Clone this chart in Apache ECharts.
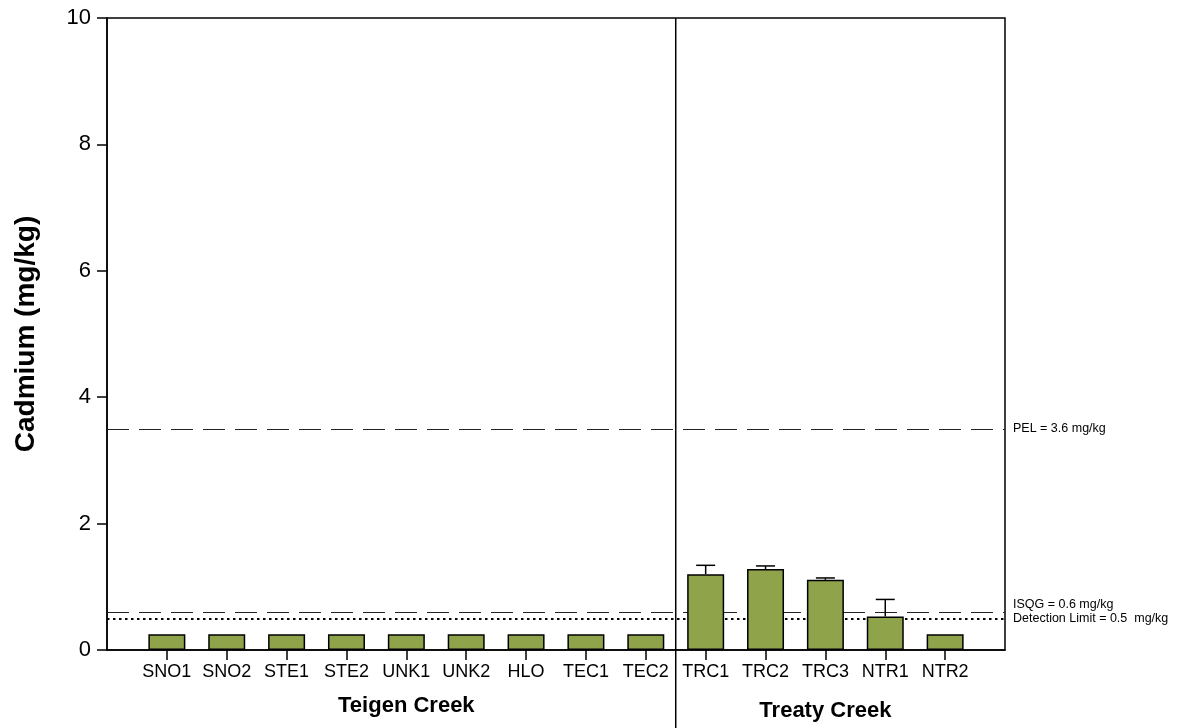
<!DOCTYPE html>
<html>
<head>
<meta charset="utf-8">
<script src="https://cdn.jsdelivr.net/npm/echarts@6/dist/echarts.min.js"></script>
<style>html,body{margin:0;padding:0;background:#fff}#c{width:1189px;height:728px}</style>
</head>
<body>
<div id="c"></div>
<script>
const categories = ['SNO1','SNO2','STE1','STE2','UNK1','UNK2','HLO','TEC1','TEC2','TRC1','TRC2','TRC3','NTR1','NTR2'];
const cadmium = [0.25,0.25,0.25,0.25,0.25,0.25,0.25,0.25,0.25,1.20,1.28,1.11,0.53,0.25];
const errorUp = [null,null,null,null,null,null,null,null,null,0.14,0.05,0.03,0.27,null];
const groups = [
  {name:'Teigen Creek', first:'SNO1', last:'TEC2'},
  {name:'Treaty Creek', first:'TRC1', last:'NTR2'}
];
const yTicks = [0,2,4,6,8,10];
const refLines = [
  {value:3.5, label:'PEL = 3.6 mg/kg', type:[22,10], width:1, color:'#222', shift:0},
  {value:0.6, label:'ISQG = 0.6 mg/kg', type:[22,10], width:1, color:'#222', shift:-1},
  {value:0.5, label:'Detection Limit = 0.5  mg/kg', type:[2.5,3.5], width:2, color:'#000', shift:0}
];

const axisCats = [''].concat(categories, ['']);
const barData = [null].concat(cadmium);
const errData = [];
cadmium.forEach((v,i)=>{ if(errorUp[i]!=null) errData.push([i+1, v, v+errorUp[i]]); });

const chart = echarts.init(document.getElementById('c'));
const FONT = '"Liberation Sans", Arial, sans-serif';
chart.setOption({
  animation:false,
  grid:{left:107, right:184, top:18, bottom:78, show:true, borderColor:'#000', borderWidth:1.5},
  xAxis:{
    type:'category', data:axisCats, boundaryGap:false,
    axisLine:{lineStyle:{color:'#000', width:1.5}},
    axisTick:{length:10, lineStyle:{color:'#000', width:1.5}, interval:(i,v)=>v!==''},
    axisLabel:{color:'#000', fontSize:18, fontFamily:FONT, margin:13, interval:0},
    splitLine:{show:false}
  },
  yAxis:{
    type:'value', min:yTicks[0], max:yTicks[yTicks.length-1], interval:2,
    name:'Cadmium (mg/kg)', nameLocation:'middle', nameGap:67,
    nameTextStyle:{color:'#000', fontSize:28, fontWeight:'bold', fontFamily:FONT},
    axisLine:{show:true, lineStyle:{color:'#000', width:1.5}},
    axisTick:{show:true, length:10, lineStyle:{color:'#000', width:1.5}},
    axisLabel:{color:'#000', fontSize:22, fontFamily:FONT, margin:16},
    splitLine:{show:false}
  },
  series:[
    {
      type:'line', data:[], z:1, silent:true,
      markLine:{
        silent:true, symbol:'none', z:1,
        data: refLines.map(r=>({
          yAxis:r.value,
          lineStyle:{type:r.type, width:r.width, color:r.color},
          label:{show:true, position:'end', color:'#000', fontSize:12.5, fontFamily:FONT, distance:8,
            lineHeight:16,
            formatter: r.shift<0 ? r.label+'\n ' : r.label}
        }))
      }
    },
    {
      type:'bar', data:barData, barWidth:37, z:3,
      itemStyle:{color:'#8fa34b', borderColor:'#000', borderWidth:1.5}
    },
    {
      type:'custom', data:errData, z:5,
      renderItem:(params, api)=>{
        const x = api.value(0);
        const lo = api.coord([x, api.value(1)]);
        const hi = api.coord([x, api.value(2)]);
        const hw = 9.5;
        return {type:'group', children:[
          {type:'line', shape:{x1:lo[0], y1:lo[1], x2:hi[0], y2:hi[1]}, style:{stroke:'#000', lineWidth:1.5}},
          {type:'line', shape:{x1:hi[0]-hw, y1:hi[1], x2:hi[0]+hw, y2:hi[1]}, style:{stroke:'#000', lineWidth:1.5}}
        ]};
      }
    }
  ]
});

const gridTop = chart.convertToPixel({yAxisIndex:0}, yTicks[yTicks.length-1]);
const idxT = categories.indexOf('TEC2')+1, idxR = categories.indexOf('TRC1')+1;
const divX = (chart.convertToPixel({xAxisIndex:0}, idxT) + chart.convertToPixel({xAxisIndex:0}, idxR))/2;
const graphics = [
  {type:'line', shape:{x1:divX, y1:gridTop, x2:divX, y2:728}, style:{stroke:'#000', lineWidth:1.5}, z:10}
];
const ys = [706, 711];
groups.forEach((g,k)=>{
  const a = chart.convertToPixel({xAxisIndex:0}, categories.indexOf(g.first)+1);
  const b = chart.convertToPixel({xAxisIndex:0}, categories.indexOf(g.last)+1);
  graphics.push({type:'text', x:(a+b)/2, y:ys[k], style:{text:g.name, fill:'#000', font:'bold 22px '+FONT, textAlign:'center', textVerticalAlign:'middle'}, z:10});
});
chart.setOption({graphic:graphics});
</script>
</body>
</html>
